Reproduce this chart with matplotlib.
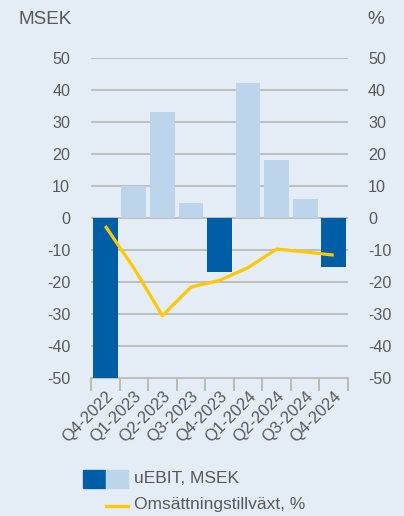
import matplotlib
matplotlib.use("Agg")
import matplotlib.pyplot as plt
from matplotlib.patches import Rectangle
from matplotlib.lines import Line2D

quarters = ["Q4-2022", "Q1-2023", "Q2-2023", "Q3-2023", "Q4-2023",
            "Q1-2024", "Q2-2024", "Q3-2024", "Q4-2024"]
uebit = [-50, 10, 33, 4.5, -17, 42, 18, 6, -15.4]
growth = [-2.6, -15.7, -30.6, -21.7, -19.6, -15.6, -9.8, -10.7, -11.7]
yticks = [-50, -40, -30, -20, -10, 0, 10, 20, 30, 40, 50]

bg = "#E4ECF6"
dark = "#005EA6"
light = "#BDD5EA"
yellow = "#FFC800"
grid_c = "#BDBAB5"
txt = "#595959"

plt.rcParams["font.family"] = ["Liberation Sans", "DejaVu Sans"]
fs = 11.6

fig = plt.figure(figsize=(4.04, 5.16), dpi=100, facecolor=bg)
W, H = 404, 516
ax = fig.add_axes([91 / W, 1 - 377.7 / H, (348 - 91) / W, (377.7 - 57.7) / H])
ax.set_facecolor(bg)

x = list(range(len(quarters)))
cols = [dark if v < 0 else light for v in uebit]
ax.bar(x, uebit, width=0.87, color=cols, zorder=3)
ax.set_xlim(-0.5, len(quarters) - 0.5)
ax.set_ylim(-50, 50)
ax.set_yticks(yticks)
ax.set_yticklabels([str(v) for v in yticks], fontsize=fs, color=txt)
ax.tick_params(axis="y", length=0, pad=15)
for v in yticks:
    if v != -50:
        ax.axhline(v, color=grid_c, lw=1.3, zorder=1)

ax.set_xticks(x)
ax.set_xticklabels(quarters, rotation=45, ha="right", va="top",
                   rotation_mode="anchor", fontsize=12, color=txt)
ax.tick_params(axis="x", length=0, pad=8)
ax.set_xticks([i - 0.5 for i in range(len(quarters) + 1)], minor=True)
ax.tick_params(axis="x", which="minor", length=9.4, width=1.4,
               color=grid_c, direction="out")
for s in ["top", "right", "left"]:
    ax.spines[s].set_visible(False)
ax.spines["bottom"].set_color(grid_c)
ax.spines["bottom"].set_linewidth(1.3)

ax2 = ax.twinx()
ax2.plot(x, growth, color=yellow, lw=2.3, zorder=4, solid_capstyle="butt")
ax2.set_ylim(-50, 50)
ax2.set_yticks(yticks)
ax2.set_yticklabels([str(v) for v in yticks], fontsize=fs, color=txt)
ax2.tick_params(axis="y", length=0, pad=14.4)
for s in ["top", "right", "left", "bottom"]:
    ax2.spines[s].set_visible(False)

fig.text(18 / W, 1 - 19 / H, "MSEK", fontsize=13.6, color=txt, va="center", ha="left")
fig.text(367 / W, 1 - 19 / H, "%", fontsize=13.6, color=txt, va="center", ha="left")

# legend
fig.add_artist(Rectangle((83 / W, 1 - 488 / H), 22 / W, 18 / H,
                         transform=fig.transFigure, color=dark))
fig.add_artist(Rectangle((106 / W, 1 - 488 / H), 22 / W, 18 / H,
                         transform=fig.transFigure, color=light))
fig.text(134 / W, 1 - 478.5 / H, "uEBIT, MSEK", fontsize=12.5, color=txt, va="center")
fig.add_artist(Line2D([106 / W, 127.5 / W], [1 - 506 / H, 1 - 506 / H],
                      transform=fig.transFigure, color=yellow, lw=2.3))
fig.text(134 / W, 1 - 505 / H, "Omsättningstillväxt, %", fontsize=12.5, color=txt, va="center")

fig.savefig("out.png", dpi=100, facecolor=bg)
